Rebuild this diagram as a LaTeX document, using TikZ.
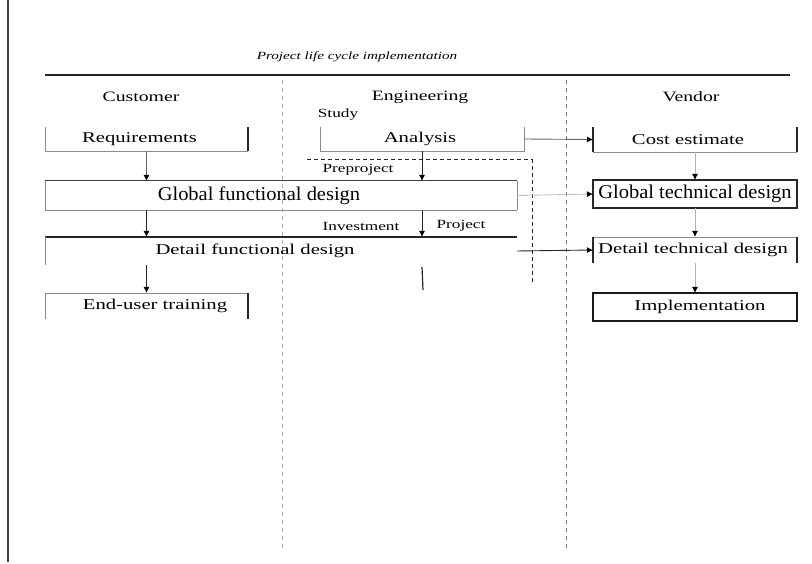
\documentclass[tikz,border=0pt]{standalone}
\usepackage{fontspec}
\setmainfont{Liberation Serif}
\newfontfamily\lblfont[FakeStretch=1.38]{Liberation Serif}
\newfontfamily\bigfont[FakeStretch=1.05]{Liberation Serif}
\usetikzlibrary{arrows.meta}
\begin{document}
\begin{tikzpicture}[x=1pt,y=-1pt,
  box/.style={inner sep=0pt,outer sep=0pt,font=\lblfont\fontsize{15}{17}\selectfont},
  bigbox/.style={box,font=\bigfont\fontsize{19.5}{21}\selectfont},
  head/.style={inner sep=0pt,font=\lblfont\fontsize{14.3}{16}\selectfont},
  small/.style={inner sep=0pt,font=\lblfont\fontsize{12.5}{14}\selectfont},
  thinln/.style={draw=black!45,line width=0.8pt},
  darkln/.style={draw=black!85,line width=1.3pt},
  arr/.style={draw=black!60,line width=0.9pt,-{Latex[length=6pt,width=6pt,black]}},
  sep/.style={dashed,dash pattern=on 4pt off 4pt,line width=0.8pt}]
\useasboundingbox (0,0) rectangle (812,564);

% frame edge and title rule
\draw[line width=1.6pt,black!75] (8,0) -- (8,562);
\node[inner sep=0pt,font=\lblfont\itshape\fontsize{11}{13}\selectfont] (title) at (357,57) {Project life cycle implementation};
\draw[line width=1.6pt,black!85] (45,75) -- (790,75);

% swimlane separators
\draw[sep,black!30] (282,80) -- (282,548);
\draw[sep,black!55] (566,80) -- (566,548);

% lane headers
\node[head] (hcust) at (141,97) {Customer};
\node[head] (heng) at (420,97) {Engineering};
\node[head] (hven) at (691,97) {Vendor};
\node[small] (study) at (338,115) {Study};

% customer lane
\node[box,minimum width=203pt,minimum height=24pt] (req) at (146.5,139) {\hspace*{-14pt}Requirements};
\draw[thinln] (req.north west) -- (req.south west) -- (req.south east);
\draw[darkln] (req.south east) -- (req.north east);

\node[bigbox,minimum width=472pt,minimum height=29pt] (gfd) at (281,195.5) {\hspace*{-44pt}Global functional design};
\draw[thinln] (gfd.south east) -- (gfd.north east);
\draw[thinln] (gfd.north west) -- (gfd.south west) -- (gfd.south east);
\draw[darkln,line width=1pt,draw=black!75] (gfd.north west) -- (gfd.north east);

\node[box,minimum width=472pt,minimum height=28pt] (dfd) at (281,251) {\hspace*{-52pt}Detail functional design};
\draw[darkln] (dfd.north west) -- (dfd.north east);
\draw[thinln] (dfd.north west) -- (dfd.south west);

\node[box,minimum width=203pt,minimum height=26pt] (eut) at (146.5,306) {\hspace*{17pt}End-user training};
\draw[thinln] (eut.south west) -- (eut.north west) -- (eut.north east);
\draw[darkln] (eut.north east) -- (eut.south east);

% engineering lane
\node[box,minimum width=204pt,minimum height=24pt] (ana) at (422,139) {\hspace*{-4pt}Analysis};
\draw[thinln] (ana.north west) -- (ana.south west) -- (ana.south east) -- (ana.north east);

\coordinate (dtl) at (307,160);
\coordinate (dtr) at (532,160);
\coordinate (dbr) at (532,282);
\draw[dashed,dash pattern=on 4pt off 3pt,line width=1pt,black!85] (dtl) -- (dtr) -- (dbr);

\node[small] (pre) at (358,170) {Preproject};
\node[small] (inv) at (361,226) {Investment};
\node[small] (proj) at (461,226) {Project};

% vendor lane
\node[box,minimum width=204pt,minimum height=25pt] (cost) at (695,139.5) {\hspace*{-14pt}Cost estimate};
\draw[thinln] (cost.south west) -- (cost.south east);
\draw[darkln] (cost.north west) -- (cost.south west);
\draw[darkln] (cost.north east) -- (cost.south east);

\node[bigbox,draw=black!85,line width=1.2pt,minimum width=204pt,minimum height=28pt] (gtd) at (695,194) {Global technical design};

\node[box,minimum width=204pt,minimum height=26pt] (dtd) at (695,250) {\hspace*{-4pt}Detail technical design};
\draw[thinln] (dtd.north west) -- (dtd.north east);
\draw[darkln] (dtd.north west) -- (dtd.south west);
\draw[darkln] (dtd.north east) -- (dtd.south east);

\node[box,draw=black!90,line width=1.4pt,minimum width=204pt,minimum height=28pt] (imp) at (695,307) {\hspace*{10pt}Implementation};

% flows
\draw[arr] (req.south) -- (req.south |- gfd.north);
\draw[arr,draw=black!85] (req.south |- gfd.south) -- (req.south |- dfd.north);
\draw[arr,draw=black!85] (req.south |- dfd.south) -- (eut.north);
\draw[arr,draw=black!85] (ana.south) -- (ana.south |- gfd.north);
\draw[arr,draw=black!85] (ana.south |- gfd.south) -- (ana.south |- dfd.north);
\coordinate (tail) at (423,290);
\draw[line width=1.2pt,black!85] (ana.south |- 0,267) -- (tail);
\draw[arr] (ana.east) -- (cost.west);
\draw[arr,draw=black!25] (gfd.east) -- (gtd.west);
\draw[arr,draw=black!85] (dfd.east) -- (dtd.west);
\draw[arr,draw=black!30] (cost.south) -- (gtd.north);
\draw[arr,draw=black!30] (gtd.south) -- (dtd.north);
\draw[arr,draw=black!30] (dtd.south) -- (imp.north);
\end{tikzpicture}
\end{document}
